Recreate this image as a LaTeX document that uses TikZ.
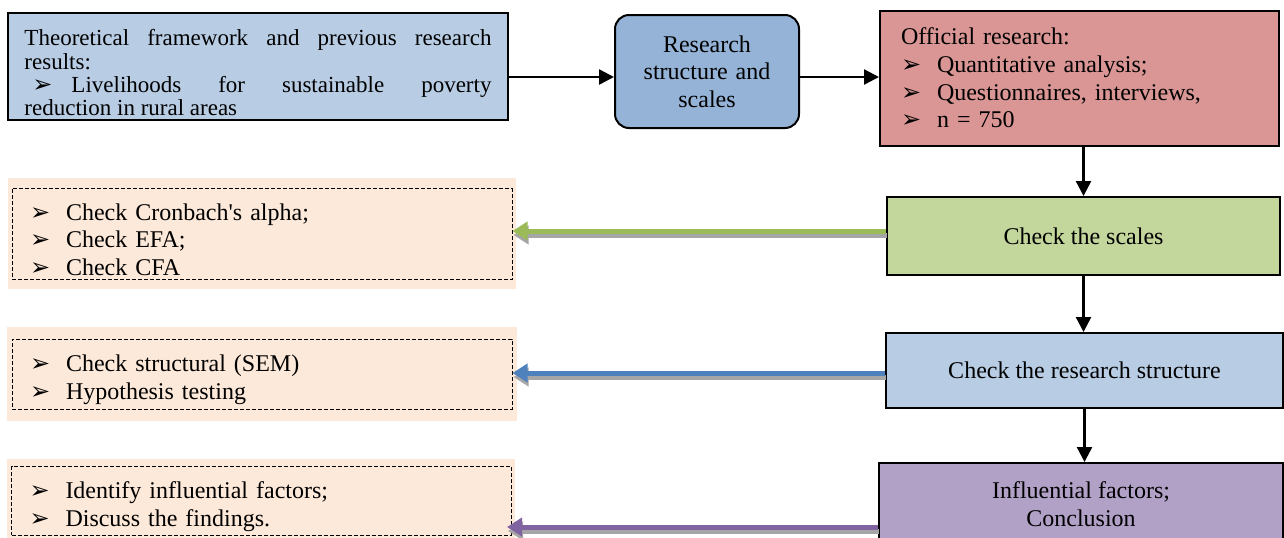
\documentclass[tikz,border=0pt]{standalone}
\usepackage{fontspec}
\setmainfont{Liberation Serif}
\newfontfamily\symfont{DejaVu Sans}
\usetikzlibrary{arrows.meta}
\definecolor{frameblue}{HTML}{B8CCE4}
\definecolor{modelblue}{HTML}{95B3D7}
\definecolor{offred}{HTML}{D99694}
\definecolor{scalegreen}{HTML}{C3D69B}
\definecolor{conclpurple}{HTML}{B2A1C7}
\definecolor{peach}{HTML}{FDE9D9}
\definecolor{greenarr}{HTML}{9BBB59}
\definecolor{bluearr}{HTML}{4F81BD}
\definecolor{purplearr}{HTML}{8064A2}
\definecolor{shadowgray}{HTML}{A6A6A6}
\newcommand{\bul}{{\symfont\fontsize{12}{12}\selectfont ➢}}
\newcommand{\flowitem}{\par\noindent\makebox[18pt][l]{\bul}}
\begin{document}
\begin{tikzpicture}[x=0.5pt,y=-0.5pt,
    box/.style={draw, line width=1pt, inner sep=0pt, align=center,
      font=\fontsize{12}{13.8}\selectfont},
    flow/.style={line width=1.2pt, -{Triangle[length=7.5pt,width=7.5pt]}},
    fatarrow/.style={line width=2.5pt, -{Triangle[length=7.5pt,width=9pt]}},
    peachbg/.style={fill=peach, inner sep=0pt},
    dashbox/.style={draw, dash pattern=on 2pt off 1pt, line width=0.5pt,
      text width=232pt, inner xsep=9pt, inner ysep=2pt, align=left,
      font=\fontsize{12}{13.8}\selectfont}]
  \useasboundingbox (0,0) rectangle (1284,537);

  % top row
  \node[box, fill=frameblue, minimum width=250pt, minimum height=53.5pt,
    text width=233.5pt, inner xsep=8.25pt, align=justify,
    font=\fontsize{11.5}{11.7}\selectfont] (frame) at (258,66.5)
    {\rule{0pt}{14.5pt}Theoretical framework and previous research\linebreak results:\par
     \hangindent=23.5pt\hangafter=1\noindent\hspace*{4pt}\makebox[19.5pt][l]{\bul}Livelihoods
     for sustainable poverty\linebreak reduction in rural areas};
  \node[box, fill=modelblue, rounded corners=7pt, minimum width=92pt,
    minimum height=56.5pt, text width=80pt] (model) at (707,71.5)
    {Research\\ structure and\\ scales};
  \node[box, fill=offred, minimum width=199.5pt, minimum height=67.5pt,
    text width=178.5pt, inner xsep=10.5pt, align=left] (official) at (1079.5,78)
    {Official research:
     \flowitem Quantitative analysis;
     \flowitem Questionnaires, interviews,
     \flowitem n = 750};

  % right column
  \node[box, fill=scalegreen, minimum width=196.5pt, minimum height=39pt] (scales)
    at (1083.5,236) {Check the scales};
  \node[box, fill=frameblue, minimum width=198.5pt, minimum height=37.5pt] (structure)
    at (1084.5,370.5) {Check the research structure};
  \node[box, fill=conclpurple, minimum width=202pt, minimum height=41pt] (conclusion)
    at (1081,504) {Influential factors;\\ Conclusion};

  % left column
  \node[peachbg, minimum width=254pt, minimum height=55.5pt] (cronbachbg) at (262,233.5) {};
  \node[dashbox, minimum height=45pt] (cronbach) at (262,234)
    {\flowitem Check Cronbach\textquotesingle s alpha;
     \flowitem Check EFA;
     \flowitem Check CFA};
  \node[peachbg, minimum width=255pt, minimum height=47pt] (reviewbg) at (262,374) {};
  \node[dashbox, minimum height=35pt] (review) at (262,374)
    {\flowitem Check structural (SEM)
     \flowitem Hypothesis testing};
  \node[peachbg, minimum width=254pt, minimum height=43pt] (findingsbg) at (261,502) {};
  \node[dashbox, minimum height=31pt] (findings) at (261.5,501)
    {\flowitem Identify influential factors;
     \flowitem Discuss the findings.};

  % black flow
  \coordinate (row) at (0,77);
  \draw[flow] (frame.east |- row) -- (model.west |- row);
  \draw[flow] (model.east |- row) -- (official.west |- row);
  \draw[flow] (official.south -| scales.north) -- (scales.north);
  \draw[flow] (scales.south) -- (structure.north -| scales.south);
  \draw[flow] (structure.south) -- (conclusion.north -| structure.south);

  % fat arrows with shadow
  \coordinate (ga) at (0,231);
  \coordinate (gb) at (0,373);
  \coordinate (gc) at (0,527);
  \coordinate (ta) at (cronbach.east |- ga);
  \coordinate (tb) at (review.east |- gb);
  \coordinate (tc) at ([xshift=-2.5pt]findings.east |- gc);
  \begin{scope}[shadowgray]
    \draw[fatarrow] ([shift={(0.5pt,-2pt)}]scales.west |- ga) -- ([shift={(0.5pt,-2pt)}]ta);
    \draw[fatarrow] ([shift={(0.5pt,-2pt)}]structure.west |- gb) -- ([shift={(0.5pt,-2pt)}]tb);
    \draw[fatarrow] ([shift={(0.5pt,-2pt)}]conclusion.west |- gc) -- ([shift={(0.5pt,-2pt)}]tc);
  \end{scope}
  \draw[fatarrow, greenarr] (scales.west |- ga) -- (ta);
  \draw[fatarrow, bluearr] (structure.west |- gb) -- (tb);
  \draw[fatarrow, purplearr] (conclusion.west |- gc) -- (tc);
\end{tikzpicture}
\end{document}
